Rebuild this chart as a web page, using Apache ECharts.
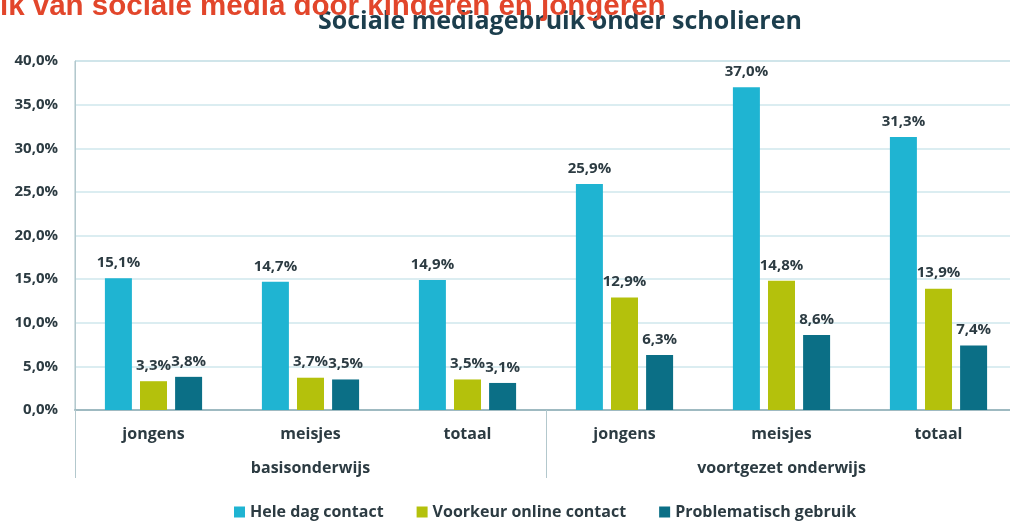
<!DOCTYPE html>
<html>
  <head>
    <title></title>
    <meta charset="UTF-8" />
    <script src="https://cdn.jsdelivr.net/npm/echarts@6/dist/echarts.min.js"></script>
    <style>
      html, body { margin: 0; padding: 0; background: #fff; }
    </style>
  </head>
  <body>
    <div id="main"></div>
    <script>
      const width = 1010;
      const height = 522;
      const main = document.getElementById('main');
      main.style.width = `${width}px`;
      main.style.height = `${height}px`;

      // data
      const categories = ['jongens', 'meisjes', 'totaal', 'jongens', 'meisjes', 'totaal'];
      const groups = ['basisonderwijs', 'voortgezet onderwijs'];
      const seriesNames = ['Hele dag contact', 'Voorkeur online contact', 'Problematisch gebruik'];
      const heleDag = [15.1, 14.7, 14.9, 25.9, 37.0, 31.3];
      const voorkeur = [3.3, 3.7, 3.5, 12.9, 14.8, 13.9];
      const problematisch = [3.8, 3.5, 3.1, 6.3, 8.6, 7.4];
      const colors = ['#1fb4d2', '#b4c10c', '#0b6f86'];

      const ink = '#2c3b42';
      const font = '"Open Sans", sans-serif';
      const pct = (v) => v.toFixed(1).replace('.', ',') + '%';

      const series = [heleDag, voorkeur, problematisch].map((data, i) => ({
        name: seriesNames[i],
        type: 'bar',
        data,
        barWidth: 27,
        barGap: '30%',
        itemStyle: { color: colors[i] },
        label: {
          show: true,
          position: 'top',
          distance: 8,
          formatter: (p) => pct(p.value),
          color: ink,
          fontFamily: font,
          fontWeight: 'bold',
          fontSize: 15,
        },
      }));

      const myChart = echarts.init(main);
      const option = {
        animation: false,
        textStyle: { fontFamily: font },
        grid: {
          left: 75,
          right: -7,
          top: 61,
          bottom: 112,
          show: true,
          borderColor: '#a9c3c9',
          borderWidth: 1,
          containLabel: false,
          outerBoundsMode: 'none',
        },
        legend: {
          left: 229,
          top: 499,
          icon: 'rect',
          itemWidth: 11,
          itemHeight: 11,
          itemGap: 33,
          textStyle: { color: ink, fontWeight: 'bold', fontSize: 16, fontFamily: font },
          data: seriesNames,
        },
        xAxis: [
          {
            type: 'category',
            data: categories,
            axisLine: { lineStyle: { color: '#9fbac1', width: 2 } },
            axisTick: { show: false },
            axisLabel: {
              margin: 16,
              color: ink,
              fontWeight: 'bold',
              fontSize: 16,
              fontFamily: font,
            },
          },
          {
            type: 'category',
            position: 'bottom',
            data: groups,
            axisLine: { show: false },
            axisTick: { show: true, length: 68, lineStyle: { color: '#b3c8cd', width: 1 } },
            axisLabel: {
              margin: 50,
              color: ink,
              fontWeight: 'bold',
              fontSize: 16,
              fontFamily: font,
            },
          },
        ],
        yAxis: {
          type: 'value',
          min: 0,
          max: 40,
          interval: 5,
          axisLine: { show: true, lineStyle: { color: '#b3c8cd' } },
          axisTick: { show: false },
          splitLine: { lineStyle: { color: '#cfe7ec', width: 1.5 } },
          axisLabel: {
            margin: 17,
            formatter: pct,
            color: ink,
            fontWeight: 'bold',
            fontSize: 15,
            fontFamily: font,
          },
        },
        graphic: [
          {
            type: 'text',
            left: 318,
            top: 9,
            z: 10,
            style: {
              text: 'Sociale mediagebruik onder scholieren',
              fill: '#1c3e4d',
              font: 'bold 25px "Open Sans", sans-serif',
            },
          },
          {
            type: 'text',
            x: 0,
            y: 22,
            z: 20,
            style: {
              text: 'ik van sociale media door kinderen en jongeren',
              fill: '#e2462b',
              font: 'bold 29.5px "Liberation Sans", Arial, sans-serif',
              textVerticalAlign: 'bottom',
            },
          },
        ],
        series,
      };
      myChart.setOption(option);
    </script>
  </body>
</html>
